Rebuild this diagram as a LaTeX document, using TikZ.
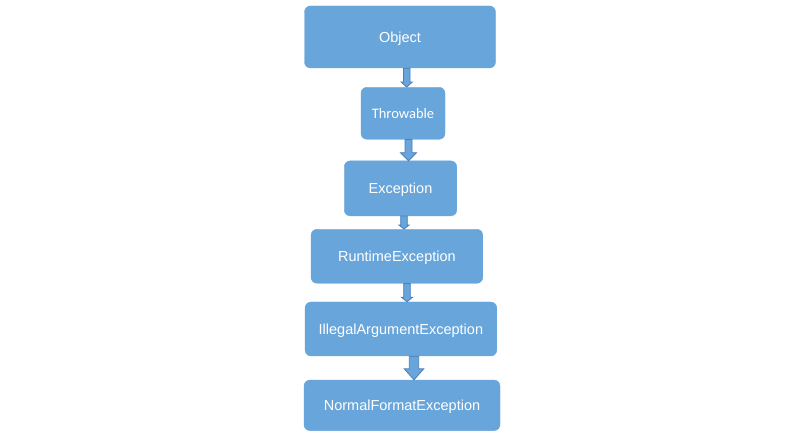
\documentclass[tikz,border=0pt]{standalone}
\usepackage{fontspec}
\setmainfont{Liberation Sans}
\newfontfamily\calib{Carlito}
\usetikzlibrary{calc}
\definecolor{boxblue}{RGB}{103,165,218}
\definecolor{arrline}{RGB}{74,126,187}
\tikzset{
  box/.style={fill=boxblue, draw=boxblue, rounded corners=6pt, text=white, inner sep=0pt,
    text height=14pt, text depth=3pt,
    font=\fontsize{14.5}{17}\selectfont},
  arr/.style={fill=boxblue, draw=arrline, line width=0.8pt, line join=miter}
}
% from, to, center x, shaft half width, head half width, head length
\newcommand{\blockarr}[6]{%
  \draw[arr] let \p1=(#1.south), \p2=(#2.north) in
    (#3pt-#4pt,\y1) -- (#3pt+#4pt,\y1) -- (#3pt+#4pt,\y2+#6pt) -- (#3pt+#5pt,\y2+#6pt)
    -- (#3pt,\y2) -- (#3pt-#5pt,\y2+#6pt) -- (#3pt-#4pt,\y2+#6pt) -- cycle;}
\begin{document}
\begin{tikzpicture}[x=1pt,y=-1pt]
\useasboundingbox[fill=white] (0,0) rectangle (793,446);
\node[box, minimum width=191pt, minimum height=62pt] (obj) at (400,37) {Object};
\node[box, minimum width=84pt, minimum height=52pt, font=\calib\fontsize{14.5}{17}\selectfont] (thr) at (403,113.3) {Throwable};
\node[box, minimum width=112.5pt, minimum height=55pt] (exc) at (400.5,188.4) {Exception};
\node[box, minimum width=171.7pt, minimum height=54pt] (run) at (396.9,256.3) {RuntimeException};
\node[box, minimum width=191.7pt, minimum height=54pt] (ill) at (400.9,329) {IllegalArgumentException};
\node[box, minimum width=196pt, minimum height=50.5pt] (nor) at (402,405.3) {NormalFormatException};
\blockarr{obj}{thr}{406.7}{3.3}{5.5}{5}
\blockarr{thr}{exc}{408.5}{3.5}{8}{8}
\blockarr{exc}{run}{404}{3.3}{5}{4}
\blockarr{run}{ill}{407}{3.3}{5.5}{4.5}
\blockarr{ill}{nor}{414}{4.7}{9.7}{11}
\end{tikzpicture}
\end{document}
